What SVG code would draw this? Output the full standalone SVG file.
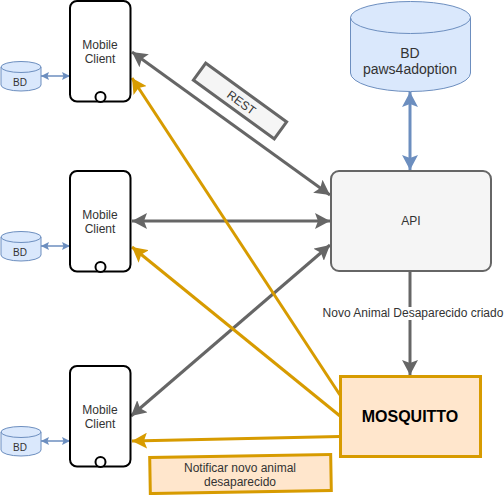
<svg xmlns="http://www.w3.org/2000/svg" width="504" height="495" viewBox="0 0 504 495">
<style>
text{font-family:"Liberation Sans",Arial,sans-serif;text-anchor:middle;fill:#333;font-size:12px}
.phone{fill:#fff;stroke:#000;stroke-width:2}
.db{fill:#dae8fc;stroke:#6c8ebf;stroke-width:1}
.top{fill:none;stroke:#6c8ebf;stroke-width:1}
.small{font-size:10px}
.g{fill:none;stroke:#666;stroke-width:3}
.y{fill:none;stroke:#d79b00;stroke-width:3}
.b{fill:none;stroke:#6c8ebf;stroke-width:1.5}
.bb{fill:none;stroke:#6c8ebf;stroke-width:3}
</style>
<defs>
<marker id="ag" markerUnits="userSpaceOnUse" markerWidth="18" markerHeight="16" refX="15" refY="8" orient="auto-start-reverse"><path d="M0 0L15 8L0 16L3 8Z" fill="#666"/></marker>
<marker id="ay" markerUnits="userSpaceOnUse" markerWidth="18" markerHeight="16" refX="15" refY="8" orient="auto-start-reverse"><path d="M0 0L15 8L0 16L3 8Z" fill="#d79b00"/></marker>
<marker id="ab" markerUnits="userSpaceOnUse" markerWidth="18" markerHeight="16" refX="15" refY="8" orient="auto-start-reverse"><path d="M0 0L15 8L0 16L3 8Z" fill="#6c8ebf"/></marker>
<marker id="as" markerUnits="userSpaceOnUse" markerWidth="9" markerHeight="8" refX="8" refY="4" orient="auto-start-reverse"><path d="M0 0L8 4L0 8L1.500 4Z" fill="#6c8ebf"/></marker>
</defs>
<g id="connectors">
<path class="g" d="M132 52L330 195" marker-start="url(#ag)" marker-end="url(#ag)"/>
<path class="g" d="M132 221L330 221" marker-start="url(#ag)" marker-end="url(#ag)"/>
<path class="g" d="M131 416L330 245" marker-start="url(#ag)" marker-end="url(#ag)"/>
<path class="g" d="M410 272L410 375" marker-end="url(#ag)"/>
<path class="y" d="M340 395L132 78" marker-end="url(#ay)"/>
<path class="y" d="M340 416L132 247" marker-end="url(#ay)"/>
<path class="y" d="M340 436.500L132 441" marker-end="url(#ay)"/>
<path class="bb" d="M410 92L410 170" marker-start="url(#ab)" marker-end="url(#ab)"/>
<path class="b" d="M41 76L70 76" marker-start="url(#as)" marker-end="url(#as)"/>
<path class="b" d="M41 246L70 246" marker-start="url(#as)" marker-end="url(#as)"/>
<path class="b" d="M41 441L70 441" marker-start="url(#as)" marker-end="url(#as)"/>
</g>
<g id="client1"><rect class="phone" x="70" y="1" width="60.500" height="100.500" rx="7"/><circle cx="100.500" cy="97" r="5" class="phone"/><text x="100" y="49">Mobile</text><text x="100" y="63">Client</text></g>
<g id="client2"><rect class="phone" x="70" y="171" width="60.500" height="100.500" rx="7"/><circle cx="100.500" cy="267" r="5" class="phone"/><text x="100" y="219">Mobile</text><text x="100" y="233">Client</text></g>
<g id="client3"><rect class="phone" x="70" y="366" width="60.500" height="100.500" rx="7"/><circle cx="100.500" cy="462" r="5" class="phone"/><text x="100" y="414">Mobile</text><text x="100" y="428">Client</text></g>
<g id="db1"><path class="db" d="M1 67V85A20 6 0 0 0 41 85V67A20 5.500 0 0 0 1 67Z"/><path class="top" d="M1 67A20 5.500 0 0 0 41 67"/><text class="small" x="20" y="86">BD</text></g>
<g id="db2"><path class="db" d="M1 237V255A20 6 0 0 0 41 255V237A20 5.500 0 0 0 1 237Z"/><path class="top" d="M1 237A20 5.500 0 0 0 41 237"/><text class="small" x="20" y="256">BD</text></g>
<g id="db3"><path class="db" d="M1 432V450A20 6 0 0 0 41 450V432A20 5.500 0 0 0 1 432Z"/><path class="top" d="M1 432A20 5.500 0 0 0 41 432"/><text class="small" x="20" y="451">BD</text></g>
<g id="db-main"><path class="db" d="M350.500 17.500V73A60 18.500 0 0 0 470.500 73V17.500A60 16 0 0 0 350.500 17.500Z"/><path class="top" d="M350.500 17.500A60 16 0 0 0 470.500 17.500"/><text x="410" y="58" style="font-size:14px">BD</text><text x="410" y="74" style="font-size:14px">paws4adoption</text></g>
<g id="rest"><rect x="-50" y="-10.500" width="100" height="21" fill="#f5f5f5" stroke="#666" stroke-width="3" transform="translate(240 101) rotate(36)"/><text transform="translate(239 106) rotate(36)">REST</text></g>
<g id="api"><rect x="331" y="171" width="160" height="100" rx="8" fill="#f5f5f5" stroke="#666" stroke-width="2"/><text x="411" y="225">API</text></g>
<g id="edge-label"><rect x="322" y="307" width="182" height="13" fill="#fff"/><text x="413" y="316.500">Novo Animal Desaparecido criado</text></g>
<g id="mosquitto"><rect x="340.500" y="376.500" width="140" height="80" fill="#ffe6cc" stroke="#d79b00" stroke-width="3"/><text x="410" y="421.500" style="font-size:16px;font-weight:bold;fill:#000">MOSQUITTO</text></g>
<g id="note"><rect x="150" y="456" width="181" height="36" fill="#ffe6cc" stroke="#d79b00" stroke-width="3" transform="rotate(-1 240 474)"/><text x="240" y="471.500">Notificar novo animal</text><text x="240" y="486">desaparecido</text></g>
</svg>
